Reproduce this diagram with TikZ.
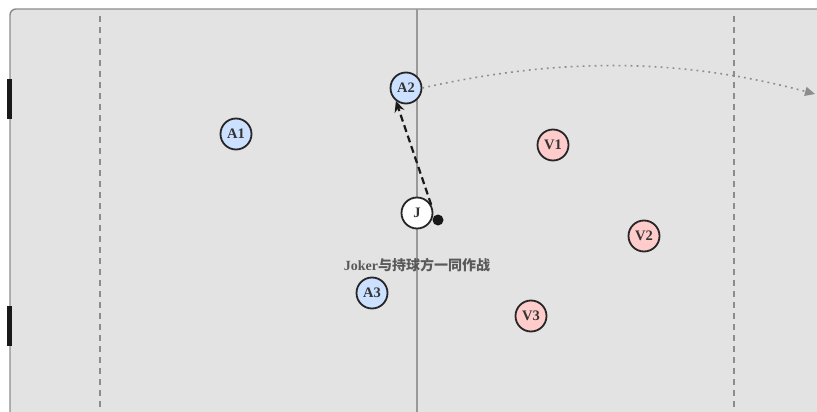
\documentclass[tikz,border=0pt]{standalone}
\usepackage{fontspec}
\setmainfont{Liberation Serif}
\newfontfamily\cjk{Noto Sans CJK SC}
\usetikzlibrary{positioning, arrows.meta, calc}
\definecolor{courtcol}{RGB}{227,227,227}
\definecolor{linecol}{RGB}{140,140,140}
\definecolor{attackcol}{RGB}{204,224,255}
\definecolor{defendcol}{RGB}{255,204,204}
\definecolor{textcol}{RGB}{51,51,51}

\begin{document}
\begin{tikzpicture}[
			x=1pt, y=-1pt,
			player/.style={
				draw=black!85,
				circle,
				minimum size=31pt,
				inner sep=0pt,
				line width=1.8pt,
				font=\bfseries\fontsize{14.5}{14.5}\selectfont,
				text=textcol
			},
			attack/.style={player, fill=attackcol},
			defend/.style={player, fill=defendcol},
			joker/.style={player, fill=white},
			zoneline/.style={
				draw=linecol,
				line width=1.4pt,
				dash pattern=on 6pt off 5pt
			},
			pass/.style={
				draw=black!90,
				line width=2.2pt,
				dash pattern=on 7pt off 4pt,
				-{Stealth[length=11pt,width=10pt]}
			},
			run/.style={
				draw=gray!90,
				line width=1.6pt,
				dash pattern=on 1.8pt off 4.2pt,
				-{Triangle[length=10pt,width=9pt]}
			}
			]
			\useasboundingbox (0,0) rectangle (817,412);
			% Court
			\draw[fill=courtcol, draw=linecol, line width=1.4pt, rounded corners=6pt]
			(10,9) rectangle (840,440);
			\draw[draw=gray!80, line width=1.8pt] (417,9) -- (417,412);
			\draw[zoneline] (100,16) -- (100,412);
			\draw[zoneline] (734,16) -- (734,412);
			\fill[black!90] (7,79) rectangle (12,119);
			\fill[black!90] (7,306) rectangle (12,346);
			
			% Players
			\node[attack] (A1) at (236,134) {A1};
			\node[attack] (A2) at (406,88) {A2};
			\node[attack] (A3) at (372,293) {A3};
			\node[joker] (J) at (417,213) {J};
			\node[defend] (V1) at (553,145) {V1};
			\node[defend] (V2) at (644,236) {V2};
			\node[defend] (V3) at (531,316) {V3};
			\node[circle, fill=black!90, minimum size=11pt, inner sep=0pt] (ball) at (438,220) {};
			\node[font=\bfseries\fontsize{14}{14}\selectfont, text=black!65] (note) at (417,265) {Joker{\cjk 与持球方一同作战}};
			
			% Movements
			\draw[pass] (J.30) -- (A2.232);
			\coordinate (runend) at (815,94);
			\draw[run] (A2.east) .. controls (560,57) and (681,58) .. (runend);
		\end{tikzpicture}
\end{document}
